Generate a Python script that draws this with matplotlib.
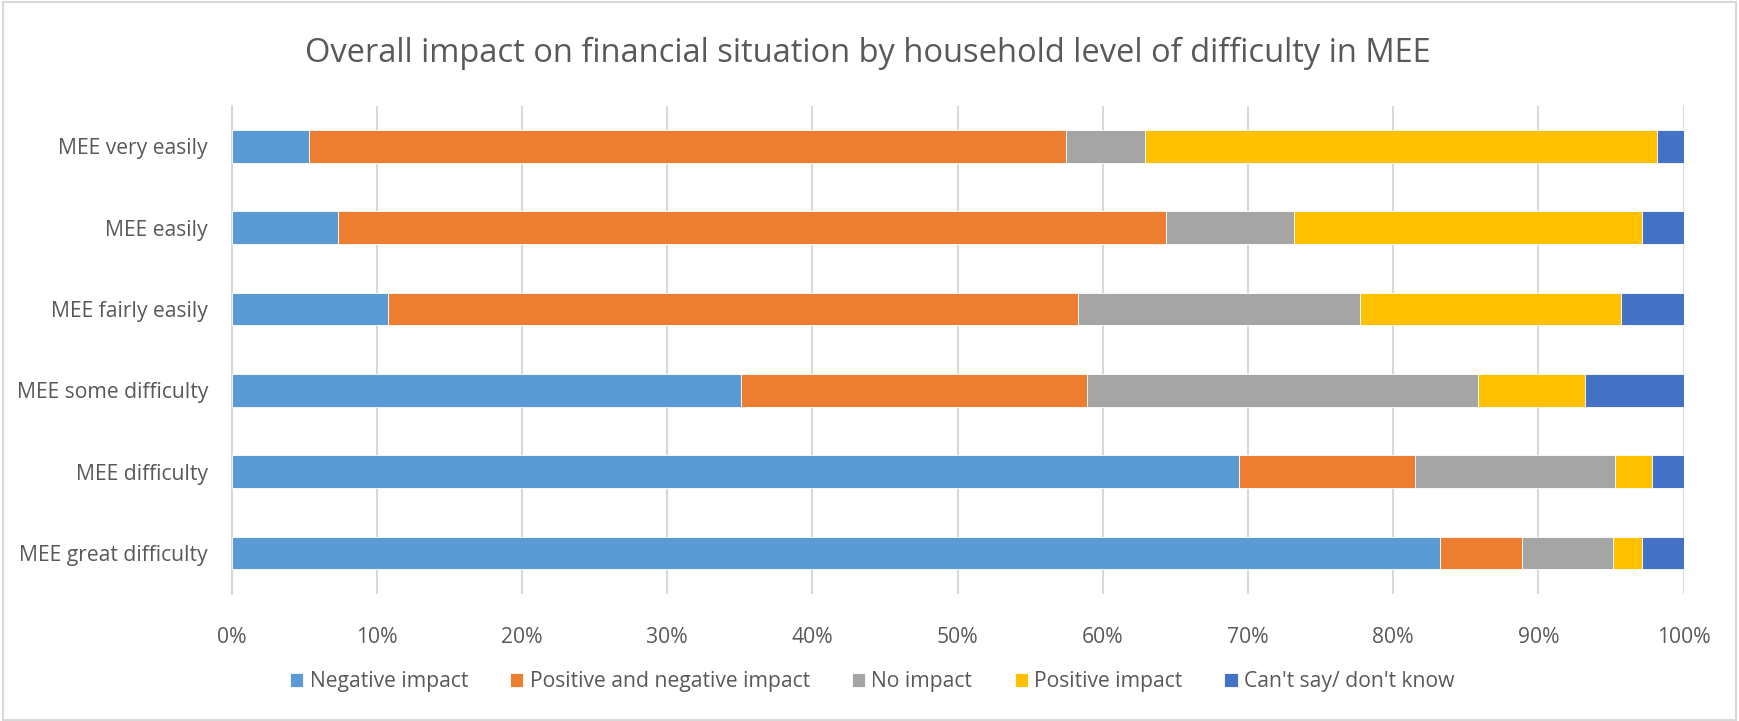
import matplotlib
matplotlib.use("Agg")
import matplotlib.pyplot as plt
from matplotlib.patches import Rectangle
import numpy as np

categories = ["MEE very easily", "MEE easily", "MEE fairly easily",
              "MEE some difficulty", "MEE difficulty", "MEE great difficulty"]
series_names = ["Negative impact", "Positive and negative impact", "No impact",
                "Positive impact", "Can't say/ don't know"]
negative = [5.3, 7.3, 10.75, 35.1, 69.4, 83.2]
pos_and_neg = [52.2, 57.05, 47.55, 23.8, 12.1, 5.7]
no_impact = [5.4, 8.85, 19.4, 26.95, 13.75, 6.25]
positive = [35.3, 23.95, 18.0, 7.35, 2.55, 2.0]
cant_say = [1.8, 2.85, 4.3, 6.8, 2.2, 2.85]
tick_labels = ["0%", "10%", "20%", "30%", "40%", "50%", "60%", "70%", "80%", "90%", "100%"]

colors = ["#5B9BD5", "#ED7D31", "#A5A5A5", "#FFC000", "#4472C4"]
text_color = "#595959"
grid_color = "#D9D9D9"

plt.rcParams['font.family'] = ['Open Sans', 'DejaVu Sans']

fig = plt.figure(figsize=(17.39, 7.21), dpi=100)
ax = fig.add_axes([0.1332, 0.1766, 0.9681 - 0.1332, 0.8533 - 0.1766])

y = np.arange(len(categories))
left = np.zeros(len(categories))
for name, vals, c in zip(series_names, [negative, pos_and_neg, no_impact, positive, cant_say], colors):
    vals = np.array(vals)
    ax.barh(y, vals, left=left, height=0.4, color=c, label=name,
            edgecolor="white", linewidth=0.6, zorder=3)
    left += vals

ax.set_ylim(len(categories) - 0.5, -0.5)
ax.set_xlim(0, 100)
ax.set_yticks(y)
ax.set_yticklabels(categories, fontsize=15.2, color=text_color)
ax.set_xticks(np.arange(0, 101, 10))
ax.set_xticklabels(tick_labels, fontsize=15.2, color=text_color)
ax.tick_params(axis='both', length=0)
ax.tick_params(axis='x', pad=24)
ax.tick_params(axis='y', pad=17)
ax.xaxis.grid(True, color=grid_color, linewidth=1.5, zorder=0)
ax.set_axisbelow(True)
for s in ["top", "right", "bottom"]:
    ax.spines[s].set_visible(False)
ax.spines["left"].set_color(grid_color)
ax.spines["left"].set_linewidth(1.5)

fig.text(0.4988, 1 - 53 / 721, "Overall impact on financial situation by household level of difficulty in MEE",
         ha="center", va="center", fontsize=23.5, color=text_color)

leg = fig.legend(loc="center", bbox_to_anchor=(0.5016, 1 - 681.7 / 721), ncol=5, frameon=False,
                 fontsize=15.2, handlelength=0.62, handleheight=0.62, handletextpad=0.3,
                 columnspacing=2.0, labelcolor=text_color)

fig.patches.append(Rectangle((0.0015, 0.002), 0.997, 0.995, transform=fig.transFigure,
                             fill=False, edgecolor=grid_color, linewidth=1.5))

fig.savefig("out.png", dpi=100, facecolor="white")
